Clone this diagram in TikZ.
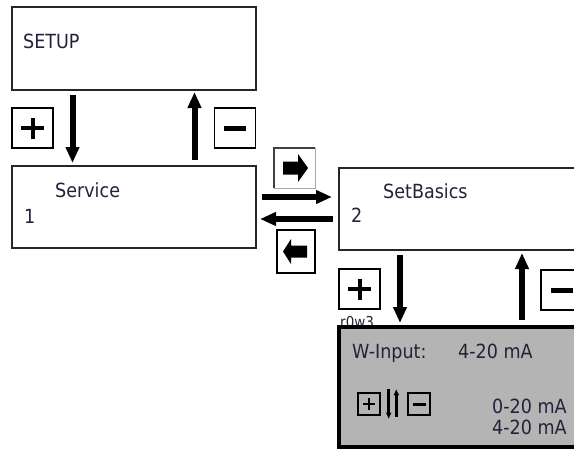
\documentclass[tikz,border=0pt]{standalone}
\usepackage{fontspec}
\setmainfont{DejaVu Sans Condensed}
\usetikzlibrary{arrows.meta,positioning}
\definecolor{Ink}{HTML}{22223A}
\definecolor{PanelGrey}{HTML}{B4B4B4}
\definecolor{EdgeGrey}{HTML}{A8A8A8}

\begin{document}
\begin{tikzpicture}[x=1pt, y=-1pt,
  screen/.style={draw=black!85, line width=1.6pt, inner sep=0pt, outer sep=0pt},
  panel/.style={draw=black, fill=PanelGrey, line width=4pt, inner sep=0pt, outer sep=0pt},
  lbl/.style={anchor=base west, inner sep=0pt, text=Ink, font=\fontsize{19.5}{21}\selectfont},
  keybox/.style={draw=black, line width=1.4pt, fill=white, inner sep=0pt, minimum width=41pt, minimum height=40pt},
  keyplus/.style={keybox, path picture={
      \draw[line width=4pt] ([xshift=-11.5pt]path picture bounding box.center) -- ([xshift=11.5pt]path picture bounding box.center);
      \draw[line width=4pt] ([yshift=-10.5pt]path picture bounding box.center) -- ([yshift=10.5pt]path picture bounding box.center);}},
  keyminus/.style={keybox, path picture={
      \draw[line width=5pt] ([xshift=-11pt]path picture bounding box.center) -- ([xshift=11pt]path picture bounding box.center);}},
  smallplus/.style={draw=black, line width=1.4pt, inner sep=0pt, minimum size=22pt, path picture={
      \draw[line width=2.5pt] ([xshift=-6pt]path picture bounding box.center) -- ([xshift=6pt]path picture bounding box.center);
      \draw[line width=2.5pt] ([yshift=-6pt]path picture bounding box.center) -- ([yshift=6pt]path picture bounding box.center);}},
  smallminus/.style={draw=black, line width=1.4pt, inner sep=0pt, minimum size=22pt, path picture={
      \draw[line width=3pt] ([xshift=-6.5pt]path picture bounding box.center) -- ([xshift=6.5pt]path picture bounding box.center);}},
  bigarrow/.style={-{Triangle[width=13pt,length=16pt]}, line width=6pt, draw=black},
  tinyarrow/.style={-{Triangle[width=5pt,length=6pt]}, line width=2.5pt, draw=black}
]
  \useasboundingbox (0,0) rectangle (574,450);
  \clip (0,0) rectangle (574,450);
  \fill[white] (0,0) rectangle (574,450);

  % menu screens
  \node[screen, minimum width=244pt, minimum height=83pt] (setup) at (134,48.5) {};
  \node[screen, minimum width=244pt, minimum height=82pt] (service) at (134,207) {};
  \node[screen, minimum width=262pt, minimum height=82pt] (basics) at (470,209) {};

  \node[lbl] (setuptxt) at (23,48) {SETUP};
  \node[lbl] (servtxt) at (55,197) {Service};
  \node[lbl] (servnum) at (24,223) {1};
  \node[lbl] (basictxt) at (383,198) {SetBasics};
  \node[lbl] (basicnum) at (351,222) {2};

  % keys
  \node[keyplus] (plusa) at (32.5,128) {};
  \node[keyminus] (minusa) at (235,128) {};
  \node[keyplus] (plusb) at (359.5,289) {};
  \node[keyminus] (minusb) at (561.5,290) {};
  \node[anchor=base west, inner sep=0pt, text=Ink, font=\fontsize{15}{15}\selectfont] (rowtxt) at (340,327) {r0w3};

  \node[inner sep=0pt, minimum width=41pt, minimum height=40pt, fill=white] (right) at (294.5,168) {};
  \draw[black!75, line width=1.4pt] (right.south west) -- (right.north west) -- (right.north east);
  \draw[EdgeGrey, line width=1.4pt] (right.north east) -- (right.south east) -- (right.south west);
  \fill[shift={(right.center)}] (-11.5,-6.5) -- (3.5,-6.5) -- (3.5,-14) -- (13.5,0) -- (3.5,14) -- (3.5,6.5) -- (-11.5,6.5) -- cycle;

  \node[keybox, minimum width=38pt, minimum height=43pt] (left) at (296,251.5) {};
  \fill[shift={(left.center)}] (11,-6) -- (-5,-6) -- (-5,-12.5) -- (-13,0) -- (-5,12.5) -- (-5,6) -- (11,6) -- cycle;

  % input panel
  \node[panel, minimum width=301pt, minimum height=120pt] (winput) at (489.5,387) {};
  \node[lbl] (wtxt) at (352,358) {W-Input:};
  \node[lbl] (wval) at (458,358) {4-20 mA};
  \node[lbl] (opta) at (492,413) {0-20 mA};
  \node[lbl] (optb) at (492,434) {4-20 mA};
  \node[smallplus] (splus) at (369,404) {};
  \node[smallminus] (sminus) at (419,404) {};
  \draw[tinyarrow] ([xshift=8pt,yshift=3pt]splus.north east) -- ([xshift=8pt,yshift=-3pt]splus.south east);
  \draw[tinyarrow] ([xshift=-11pt,yshift=-1pt]sminus.south west) -- ([xshift=-11pt,yshift=3pt]sminus.north west);

  % navigation
  \draw[bigarrow, shorten <=5pt, shorten >=3pt] ([xshift=60.5pt]setup.south west) -- ([xshift=60.5pt]service.north west);
  \draw[bigarrow, shorten <=6pt, shorten >=2pt] ([xshift=182.5pt]service.north west) -- ([xshift=182.5pt]setup.south west);
  \draw[bigarrow, shorten <=6pt, shorten >=7pt] ([yshift=-31pt]service.north east) -- ([yshift=-29pt]basics.north west);
  \draw[bigarrow, shorten <=6pt, shorten >=4pt] ([yshift=-51pt]basics.north west) -- ([yshift=-53pt]service.north east);
  \draw[bigarrow, shorten <=5pt, shorten >=4pt] ([xshift=61pt]basics.south west) -- ([xshift=61pt]winput.north west);
  \draw[bigarrow, shorten <=7pt, shorten >=3pt] ([xshift=183pt]winput.north west) -- ([xshift=183pt]basics.south west);
\end{tikzpicture}
\end{document}
